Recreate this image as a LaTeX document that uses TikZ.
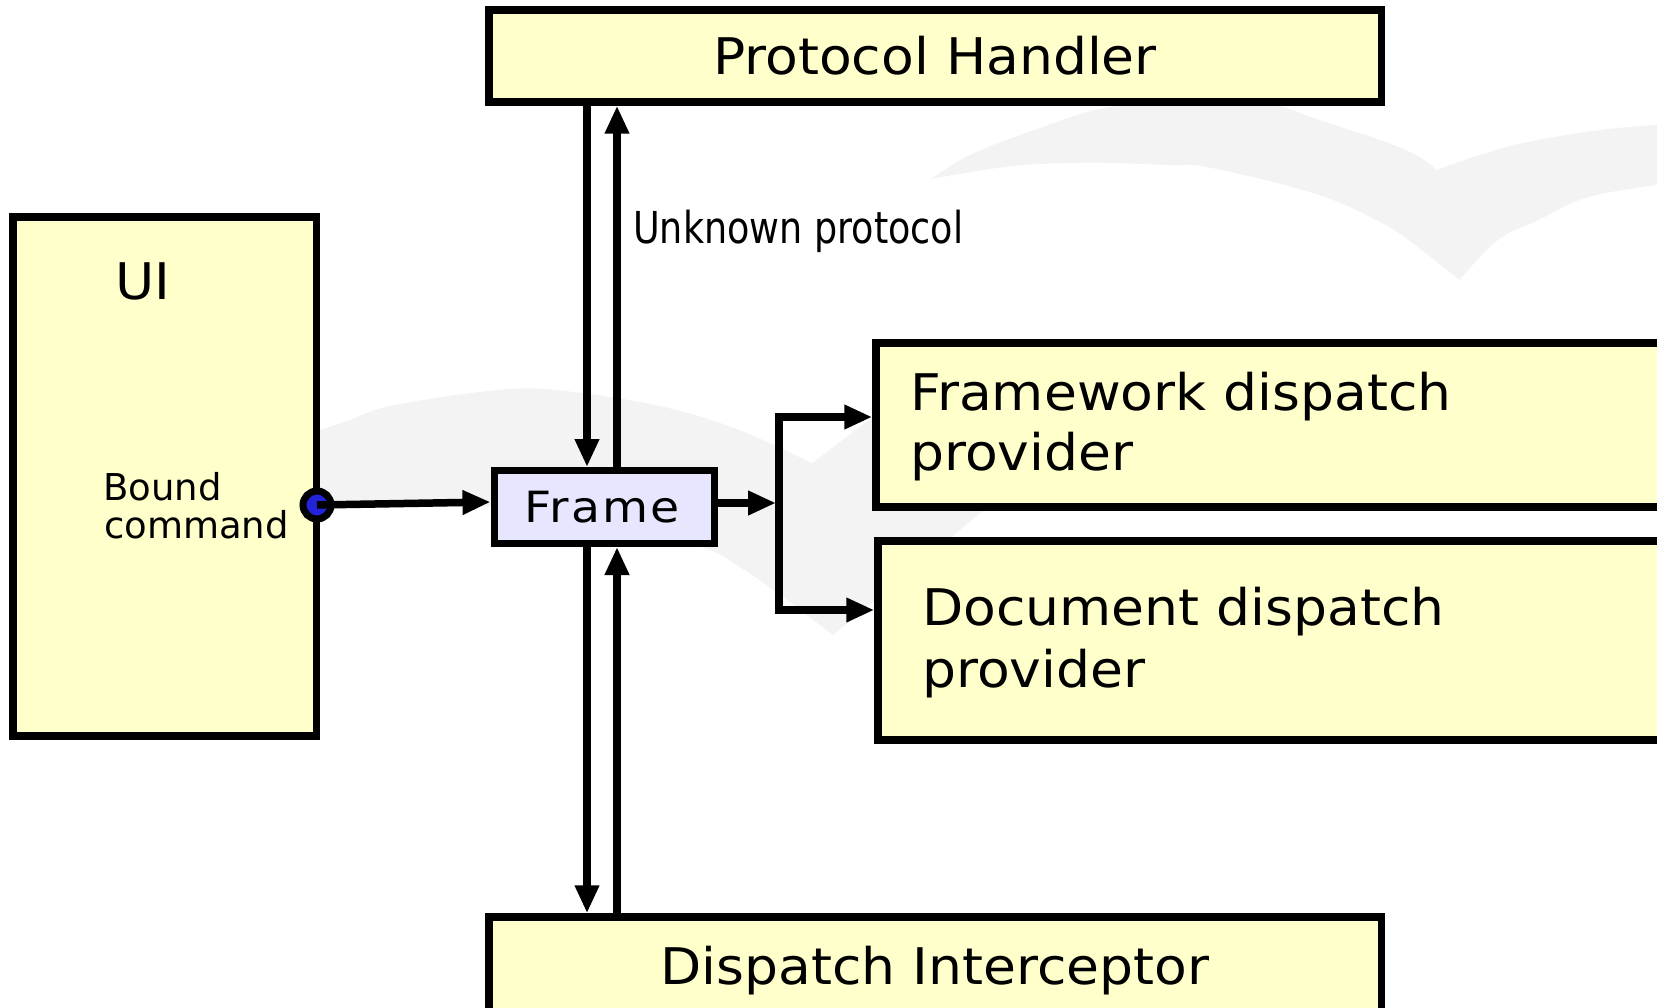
\documentclass[tikz,border=0pt]{standalone}
\usepackage{fontspec}
\setmainfont{DejaVu Sans}
\newfontfamily\labelfont[FakeStretch=1.06]{DejaVu Sans}
\newfontfamily\notefont[FakeStretch=0.83]{DejaVu Sans}
\newfontfamily\framefont[FakeStretch=1.1,LetterSpace=5]{DejaVu Sans}
\usetikzlibrary{arrows.meta}
\definecolor{boxfill}{HTML}{FFFFCC}
\definecolor{framefill}{HTML}{E6E6FF}
\definecolor{gull}{HTML}{F3F3F3}
\definecolor{portblue}{HTML}{2323DC}
\tikzset{
  box/.style={draw=black, fill=boxfill, line width=7.5pt, rectangle, inner sep=0pt},
  framebox/.style={draw=black, fill=framefill, line width=7pt, rectangle, inner sep=0pt},
  flow/.style={line width=7.5pt, -{Triangle[length=28pt,width=23pt]}},
  biglabel/.style={font=\labelfont\fontsize{50.5}{60}\selectfont, inner sep=0pt},
  notelabel/.style={font=\notefont\fontsize{44}{52}\selectfont, inner sep=0pt},
  smalllabel/.style={font=\fontsize{37}{44}\selectfont, inner sep=0pt},
  framelabel/.style={font=\framefont\fontsize{43}{50}\selectfont, inner sep=0pt},
}
\begin{document}
\begin{tikzpicture}[x=1pt,y=-1pt]
\useasboundingbox (0,0) rectangle (1657,1008);
\clip (0,0) rectangle (1657,1008);
\fill[white] (0,0) rectangle (1657,1008);

% watermark gulls
\fill[gull] plot[smooth, tension=0.6] coordinates {(290,440) (345,421.7) (394.8,405) (505.8,389.3) (570.9,391.7) (662.7,406.7) (739.2,430) (812,463.3)}
  -- (873,417) -- (950,370) -- (1100,360) -- (1175,352) -- (833,635)
  -- plot[smooth, tension=0.6] coordinates {(833,635) (777.5,593) (739.2,566.7) (701,546.7) (600,522) (490,506.7)}
  -- (290,508) -- cycle;
\fill[gull] plot[smooth, tension=0.6] coordinates {(931,179) (972,154) (1040,128) (1105,108) (1190,102) (1268,104) (1319,120) (1380,140) (1416,155) (1436.5,170)}
  -- plot[smooth, tension=0.6] coordinates {(1436.5,170) (1480,155) (1523,143) (1600,130) (1670,124)}
  -- (1670,183)
  -- plot[smooth, tension=0.6] coordinates {(1670,183) (1589.6,196.7) (1538.6,220) (1497.8,240) (1459.5,280)}
  -- plot[smooth, tension=0.6] coordinates {(1459.5,280) (1423.8,251.7) (1385.5,225) (1319,195) (1212,168) (1166,165) (1089.6,162.7) (1013,166) (931,179)}
  -- cycle;

% boxes
\node[box, minimum width=892.5pt, minimum height=92pt] (ph) at (935.25,56) {};
\node[box, minimum width=892.5pt, minimum height=108pt] (di) at (935.25,971) {};
\node[box, minimum width=303.5pt, minimum height=519pt] (ui) at (164.75,476.5) {};
\node[box, minimum width=824pt, minimum height=164pt] (fw) at (1288,425) {};
\node[box, minimum width=822pt, minimum height=199pt] (dd) at (1289,640.5) {};
\node[framebox, minimum width=220pt, minimum height=73pt] (fr) at (604,507) {};
\node[circle, draw=black, fill=portblue, line width=7pt, minimum size=28pt, inner sep=0pt] (port) at (317,505) {};

% helper coordinates for connector lanes
\coordinate (dnx) at (587,0);
\coordinate (upx) at (617,0);
\coordinate (fin) at (0,502);
\coordinate (fout) at (0,503);
\coordinate (brin) at (776,503);
\coordinate (brtop) at (779,417);
\coordinate (brbot) at (779,610);

% connectors
\draw[flow] (port.center) -- (fr.west |- fin);
\draw[flow] (ph.south -| dnx) -- (fr.north -| dnx);
\draw[flow] (fr.north -| upx) -- (ph.south -| upx);
\draw[flow] (fr.south -| dnx) -- (di.north -| dnx);
\draw[flow] (di.north -| upx) -- (fr.south -| upx);
\draw[flow] (fr.east |- fout) -- (brin);
\draw[line width=7.5pt, {Triangle[length=28pt,width=23pt]}-{Triangle[length=28pt,width=23pt]}]
  (fw.west |- brtop) -- (brtop) -- (brbot) -- (dd.west |- brbot);

% labels
\node[biglabel, anchor=base] (phtext) at (935,75) {Protocol Handler};
\node[biglabel, anchor=base] (ditext) at (935,984) {Dispatch Interceptor};
\node[biglabel, anchor=base west] (uitext) at (115,300) {UI};
\node[smalllabel, anchor=base west] (bound1) at (103,500) {Bound};
\node[smalllabel, anchor=base west] (bound2) at (104,538) {command};
\node[framelabel, anchor=base] (frtext) at (602,522) {Frame};
\node[notelabel, anchor=base west] (unknown) at (633,244) {Unknown protocol};
\node[biglabel, anchor=base west] (fw1) at (910,410) {Framework dispatch};
\node[biglabel, anchor=base west] (fw2) at (910,470.5) {provider};
\node[biglabel, anchor=base west] (dd1) at (922,625) {Document dispatch};
\node[biglabel, anchor=base west] (dd2) at (922,687) {provider};
\end{tikzpicture}
\end{document}
